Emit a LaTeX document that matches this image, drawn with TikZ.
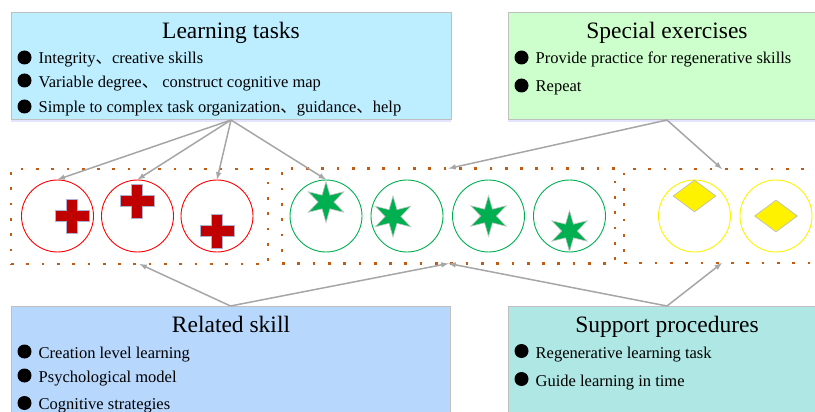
\documentclass[tikz,border=0pt]{standalone}
\usepackage{fontspec}
\setmainfont{Liberation Serif}
\newfontfamily\cjk{Noto Sans CJK SC}
\usepackage{tikz}
\usetikzlibrary{shapes.geometric,arrows,shadows}
\definecolor{boxline}{HTML}{BFBFBF}
\definecolor{learnfill}{HTML}{BDEEFF}
\definecolor{specialfill}{HTML}{CCFFCC}
\definecolor{relatedfill}{HTML}{B7D7FD}
\definecolor{supportfill}{HTML}{AEE7E3}
\definecolor{zoneline}{HTML}{C55A11}
\definecolor{crossred}{HTML}{C00000}
\definecolor{stargreen}{HTML}{00B050}
\newcommand{\dun}{{\cjk 、}}
\tikzset{
	infobox/.style={draw=boxline, line width=1pt, inner sep=0pt, outer sep=0pt, minimum height=107pt,
		drop shadow={shadow xshift=0pt, shadow yshift=-2pt, fill=blue!30, opacity=.35}},
	boxtitle/.style={anchor=base, inner sep=0pt, font=\fontsize{23.5}{26}\selectfont},
	itemtext/.style={anchor=base west, inner sep=0pt, font=\fontsize{16.5}{19}\selectfont},
	itemdot/.style={circle, fill=black, inner sep=0pt, minimum size=14pt},
	zone/.style={draw=zoneline, line width=2.7pt, dash pattern=on 2.7pt off 12.6pt, inner sep=0pt, outer sep=0pt},
	ring/.style={circle, line width=.9pt, inner sep=0pt, minimum size=72pt},
	greenstar/.style={star, star points=6, star point ratio=2.6, fill=stargreen, draw=gray!45, line width=.6pt, inner sep=0pt, minimum size=41pt},
	yellowdiamond/.style={diamond, aspect=1.3, fill=yellow, draw=boxline, line width=.7pt, inner sep=0pt, minimum width=43pt, minimum height=32pt},
	link/.style={draw=black!35, line width=1.5pt, -latex},
	redcross/.pic={
		\fill[crossred, draw=blue!25!gray!50, line width=.6pt] (-17,-5.5)--(-5.5,-5.5)--(-5.5,-17)--(5.5,-17)--(5.5,-5.5)--(17,-5.5)
			--(17,5.5)--(5.5,5.5)--(5.5,17)--(-5.5,17)--(-5.5,5.5)--(-17,5.5)--cycle;
	}
}
\begin{document}
\begin{tikzpicture}[x=1pt,y=-1pt]
	\clip (0,0) rectangle (815,412);
	% boxes
	\node[infobox, fill=learnfill, minimum width=440pt] (learn) at (231,66.5) {};
	\node[infobox, fill=specialfill, minimum width=318pt] (special) at (667,66.5) {};
	\node[infobox, fill=relatedfill, minimum width=439pt] (related) at (230.5,359.5) {};
	\node[infobox, fill=supportfill, minimum width=318pt] (support) at (667,359.5) {};
	\node[boxtitle] (learnT) at (231,39) {Learning tasks};
	\node[boxtitle] (specialT) at (667,39) {Special exercises};
	\node[boxtitle] (relatedT) at (231,332.5) {Related skill};
	\node[boxtitle] (supportT) at (667,332.5) {Support procedures};
	% box items
	\node[itemdot] (dotA) at (24.5,57.5) {};
	\node[itemdot] (dotB) at (24.5,80.5) {};
	\node[itemdot] (dotC) at (24.5,106.5) {};
	\node[itemtext] (itemA) at (38.5,64) {Integrity\dun creative skills};
	\node[itemtext] (itemB) at (38.5,88) {Variable degree\dun\ construct cognitive map};
	\node[itemtext] (itemC) at (38.5,113) {Simple to complex task organization\dun guidance\dun help};
	\node[itemdot] (dotD) at (521.5,57.5) {};
	\node[itemdot] (dotE) at (521.5,85.5) {};
	\node[itemtext] (itemD) at (535.5,64) {Provide practice for regenerative skills};
	\node[itemtext] (itemE) at (535.5,92) {Repeat};
	\node[itemdot] (dotF) at (24.5,351.5) {};
	\node[itemdot] (dotG) at (24.5,375.5) {};
	\node[itemdot] (dotH) at (24.5,403) {};
	\node[itemtext] (itemF) at (38.5,358) {Creation level learning};
	\node[itemtext] (itemG) at (38.5,382) {Psychological model};
	\node[itemtext] (itemH) at (38.5,409) {Cognitive strategies};
	\node[itemdot] (dotI) at (521.5,351) {};
	\node[itemdot] (dotJ) at (521.5,379) {};
	\node[itemtext] (itemI) at (535.5,358) {Regenerative learning task};
	\node[itemtext] (itemJ) at (535.5,386) {Guide learning in time};
	% dotted zones
	\node[zone, minimum width=257pt, minimum height=95pt] (zoneA) at (139.5,216.5) {};
	\node[zone, minimum width=333pt, minimum height=95pt] (zoneB) at (448.5,216) {};
	\node[zone, minimum width=196pt, minimum height=94pt] (zoneC) at (722,216) {};
	% circles
	\node[ring, draw=red] (circA) at (57.5,216) {};
	\node[ring, draw=red] (circB) at (137.5,216) {};
	\node[ring, draw=red] (circC) at (217,216) {};
	\node[ring, draw=stargreen] (circD) at (326,216) {};
	\node[ring, draw=stargreen] (circE) at (407,216) {};
	\node[ring, draw=stargreen] (circF) at (488.5,216) {};
	\node[ring, draw=stargreen] (circG) at (569.5,216) {};
	\node[ring, draw=yellow] (circH) at (694.5,216) {};
	\node[ring, draw=yellow] (circI) at (776,216) {};
	% marks
	\pic at (72,216) {redcross};
	\pic at (137,201) {redcross};
	\pic at (217,231) {redcross};
	\node[greenstar] (starA) at (326,202) {};
	\node[greenstar] (starB) at (393,216.5) {};
	\node[greenstar] (starC) at (488.5,216) {};
	\node[greenstar] (starD) at (569.5,231) {};
	\node[yellowdiamond] (diamA) at (694.5,196) {};
	\node[yellowdiamond] (diamB) at (776,216) {};
	% arrows
	\draw[link] (learn.south)--(circA.north);
	\draw[link] (learn.south)--(circB.north);
	\draw[link] (learn.south)--(circC.north);
	\draw[link] (learn.south)--(circD.north);
	\draw[link] (special.south)--(zoneB.north);
	\draw[link] (special.south)--(zoneC.north);
	\draw[link] (related.north)--(zoneA.south);
	\draw[link] (related.north)--(zoneB.south);
	\draw[link] (support.north)--(zoneB.south);
	\draw[link] (support.north)--(zoneC.south);
\end{tikzpicture}
\end{document}
